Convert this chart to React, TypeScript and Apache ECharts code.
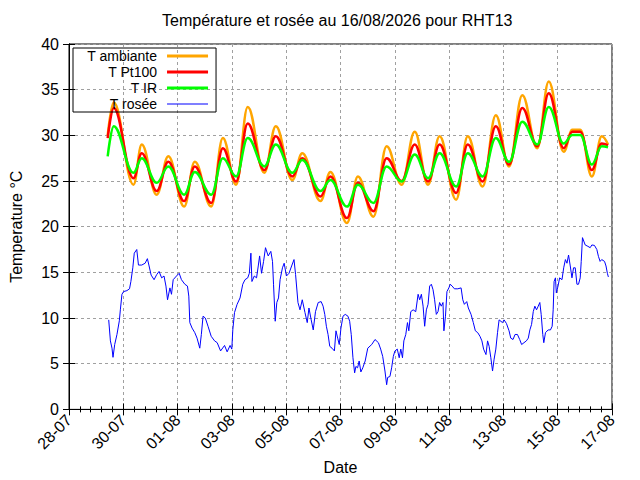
import { useEffect, useRef } from 'react'
import * as echarts from 'echarts'

// heures depuis le 28-07 00:00
const tempHours = [
  34.2, 39.5, 57.0, 64.3, 77.5, 87.8, 101.8, 111.2, 125.7, 136.0,
  147.7, 158.0, 172.6, 182.8, 197.4, 206.2, 222.3, 231.1, 245.7, 255.4,
  269.1, 280.8, 294.0, 305.6, 317.4, 327.6, 342.2, 352.5, 365.6, 377.3,
  389.0, 400.7, 413.9, 424.1, 437.3, 444.9, 451.9, 462.2, 470.9, 476.5
]

const tAmbiante = [
  30.0, 33.6, 24.6, 29.0, 23.5, 27.7, 22.2, 27.1, 22.2, 29.7,
  24.6, 33.1, 25.9, 31.0, 25.1, 28.05, 22.8, 26.0, 20.4, 25.5,
  21.1, 28.8, 24.6, 30.4, 24.6, 29.9, 22.95, 29.9, 24.4, 32.2,
  26.6, 34.4, 28.6, 35.9, 28.2, 30.6, 30.6, 25.5, 29.9, 29.0
]

const tPt100 = [
  29.7, 33.0, 25.3, 28.05, 23.9, 27.1, 22.8, 26.6, 22.6, 28.6,
  24.95, 31.3, 26.2, 29.9, 25.5, 27.5, 23.3, 25.5, 20.95, 24.8,
  21.7, 27.5, 25.0, 29.0, 24.95, 29.0, 23.7, 29.0, 24.95, 31.0,
  26.8, 33.0, 28.8, 34.6, 28.6, 30.4, 30.4, 26.2, 29.1, 28.9
]

const tIR = [
  27.7, 31.0, 25.9, 27.5, 24.8, 26.6, 23.5, 26.0, 23.5, 27.5,
  25.5, 29.7, 26.6, 29.0, 25.9, 27.3, 23.9, 25.1, 22.2, 24.6,
  22.6, 26.6, 24.95, 27.9, 25.3, 28.05, 24.4, 28.05, 25.5, 29.7,
  27.1, 31.5, 29.0, 33.1, 29.1, 30.05, 30.05, 26.8, 28.8, 28.7
]

// [heure, rosée]
const tRosee: [number, number][] = [
  [35.1, 9.8], [36.6, 7.5], [38.0, 6.7], [38.9, 5.7], [40.4, 7.1], [42.4, 8.2], [44.5, 9.7], [45.4, 10.9],
  [46.8, 12.6], [48.3, 12.9], [51.2, 13.0], [53.5, 13.2], [54.7, 14.0], [56.4, 15.5], [57.7, 17.1], [59.9, 17.5],
  [61.4, 15.8], [64.3, 15.8], [67.3, 16.0], [69.3, 16.5], [70.8, 15.7], [72.6, 14.7], [75.2, 14.2], [77.5, 14.75],
  [79.6, 15.1], [81.9, 14.4], [84.0, 14.6], [85.7, 13.5], [87.1, 12.0], [89.2, 13.3], [90.6, 12.6], [92.1, 14.2],
  [95.0, 14.6], [97.4, 14.9], [99.4, 14.2], [102.4, 13.7], [104.7, 13.5], [105.9, 12.4], [106.8, 9.5], [108.8, 8.9],
  [111.2, 8.4], [113.2, 7.8], [115.6, 6.7], [117.0, 8.2], [118.5, 10.2], [120.5, 10.0], [122.9, 9.1], [125.7, 8.0],
  [128.7, 7.5], [131.0, 7.3], [134.0, 6.4], [137.5, 7.0], [139.8, 6.3], [142.4, 7.0], [143.9, 6.6], [144.8, 8.7],
  [146.3, 10.6], [148.6, 11.5], [151.2, 12.2], [153.6, 13.7], [155.6, 14.2], [158.0, 14.4], [159.4, 14.9], [160.8, 17.1],
  [161.7, 14.0], [163.8, 14.6], [165.8, 14.4], [167.3, 15.7], [168.5, 16.8], [170.2, 14.9], [172.0, 16.2], [173.7, 17.7],
  [176.1, 16.8], [178.4, 17.3], [179.9, 16.2], [180.8, 13.7], [182.3, 9.65], [183.7, 11.7], [185.2, 12.2], [186.6, 14.2],
  [188.7, 15.5], [190.2, 16.0], [192.2, 14.6], [194.5, 14.9], [196.8, 15.7], [198.9, 16.4], [200.3, 14.75], [202.4, 11.7],
  [204.2, 10.9], [206.2, 12.0], [208.6, 10.6], [210.6, 9.5], [212.1, 11.1], [214.1, 9.8], [215.9, 8.7], [217.9, 10.7],
  [220.3, 11.7], [222.9, 11.8], [224.6, 11.3], [226.1, 10.4], [227.5, 9.1], [229.0, 8.2], [230.5, 6.9], [232.5, 6.7],
  [234.6, 6.4], [236.0, 8.6], [237.5, 7.8], [238.9, 7.1], [240.4, 8.9], [242.2, 10.2], [244.2, 10.4], [246.6, 10.2],
  [248.1, 9.65], [249.5, 8.2], [251.0, 5.65], [252.5, 4.0], [253.6, 4.7], [255.1, 4.55], [256.5, 5.3], [258.0, 4.1],
  [259.7, 4.55], [261.8, 5.3], [264.1, 6.7], [267.6, 7.1], [270.5, 7.65], [273.5, 7.3], [275.5, 6.6], [277.3, 5.8],
  [279.3, 4.2], [280.8, 2.7], [281.7, 3.5], [283.7, 3.6], [285.2, 4.55], [286.7, 5.8], [288.1, 6.4], [290.2, 6.6],
  [291.9, 5.65], [293.3, 6.6], [294.8, 5.65], [296.0, 7.5], [297.7, 8.2], [299.2, 9.5], [300.4, 8.6], [302.1, 10.7],
  [304.2, 10.9], [306.5, 10.7], [308.6, 12.6], [310.0, 12.0], [311.5, 12.6], [313.0, 11.3], [314.4, 9.1], [315.9, 10.9],
  [317.4, 11.5], [318.8, 13.5], [320.3, 13.7], [321.8, 13.1], [323.2, 12.0], [324.7, 10.4], [326.2, 10.7], [327.6, 11.7],
  [329.1, 11.3], [330.6, 11.7], [331.4, 8.6], [332.8, 10.2], [334.1, 12.9], [335.8, 13.3], [337.0, 13.7], [338.7, 13.5],
  [340.7, 13.2], [343.7, 13.2], [346.6, 13.3], [348.1, 12.0], [349.5, 11.5], [351.6, 11.8], [353.0, 11.1], [355.4, 10.4],
  [357.4, 9.5], [359.2, 8.6], [361.3, 8.4], [363.3, 8.0], [365.0, 7.5], [366.5, 6.6], [368.6, 6.0], [370.0, 7.5],
  [371.4, 6.9], [372.9, 5.65], [374.4, 4.2], [375.8, 5.5], [377.3, 6.6], [378.8, 8.4], [380.2, 9.8], [383.2, 9.5],
  [384.6, 9.8], [386.7, 9.4], [389.0, 8.6], [390.5, 7.8], [392.5, 7.65], [394.3, 8.2], [396.4, 8.2], [398.4, 7.65],
  [400.1, 7.1], [402.2, 7.3], [404.3, 7.5], [406.0, 7.8], [407.4, 8.7], [408.9, 9.3], [410.4, 10.7], [411.8, 11.3],
  [413.3, 10.9], [414.8, 11.3], [416.2, 11.7], [417.4, 10.4], [418.8, 8.2], [419.7, 7.3], [421.2, 8.4], [423.6, 8.7],
  [425.6, 8.7], [427.1, 9.1], [428.0, 10.9], [428.8, 14.0], [430.0, 14.4], [430.8, 12.75], [432.3, 13.5], [433.7, 14.4],
  [435.8, 14.2], [437.3, 15.5], [438.8, 16.4], [440.2, 16.0], [441.6, 16.9], [443.1, 15.7], [444.6, 14.4], [446.0, 15.5],
  [447.5, 15.5], [449.0, 13.7], [450.4, 13.7], [451.9, 14.4], [452.8, 16.2], [453.9, 18.8], [456.3, 18.0], [458.7, 17.85],
  [460.7, 17.7], [462.2, 18.0], [464.5, 17.95], [466.6, 17.5], [468.0, 16.75], [469.5, 16.2], [470.9, 16.4], [473.4, 16.2],
  [474.7, 15.7], [475.9, 14.9], [476.8, 14.5]
]

const xTickLabels = [
  '28-07', '30-07', '01-08', '03-08', '05-08', '07-08',
  '09-08', '11-08', '13-08', '15-08', '17-08'
]

const FONT = "'Liberation Sans', Arial, sans-serif"

// trait de légende, avec 5px vides à gauche
const thickIcon = 'path://M0,1.5h0.01v0.01h-0.01Z M5,0H46V3H5Z'
const thinIcon = 'path://M0,0.5h0.01v0.01h-0.01Z M5,0H46V1H5Z'

export default function App() {
  const chartRef = useRef<HTMLDivElement>(null)

  useEffect(() => {
    if (!chartRef.current) return
    const chart = echarts.init(chartRef.current, null, { renderer: 'svg' })

    const tempSeries = (name: string, values: number[], color: string) => ({
      name,
      type: 'line' as const,
      data: tempHours.map((h, i) => [h, values[i]]),
      showSymbol: false,
      symbol: 'none',
      smooth: 0.4,
      smoothMonotone: 'x' as const,
      color,
      itemStyle: { color },
      lineStyle: { color, width: 2.5 }
    })

    const option: echarts.EChartsOption = {
      animation: false,
      backgroundColor: '#ffffff',
      textStyle: { fontFamily: FONT },
      title: {
        text: 'Température et rosée au 16/08/2026 pour RHT13',
        left: 162,
        top: 12,
        padding: 0,
        textStyle: { fontSize: 16, fontWeight: 'normal', color: '#000', fontFamily: FONT }
      },
      legend: {
        orient: 'vertical',
        align: 'right',
        left: 73,
        top: 48,
        padding: [0, 8, 0, 14],
        itemGap: 0,
        itemWidth: 46,
        itemHeight: 14,
        borderColor: '#000',
        borderWidth: 1,
        selectedMode: false,
        itemStyle: { borderWidth: 0 },
        textStyle: { fontSize: 14, color: '#000', lineHeight: 16, fontFamily: FONT },
        data: [
          { name: 'T ambiante', icon: thickIcon },
          { name: 'T Pt100', icon: thickIcon },
          { name: 'T IR', icon: thickIcon },
          { name: 'T rosée', icon: thinIcon }
        ]
      },
      grid: {
        left: 65,
        right: 28,
        top: 44,
        bottom: 70,
        show: true,
        borderColor: '#000',
        borderWidth: 1,
        backgroundColor: 'transparent'
      },
      xAxis: [
        {
          type: 'value',
          min: 0,
          max: 480,
          interval: 48,
          position: 'bottom',
          name: 'Date',
          nameLocation: 'middle',
          nameGap: 48,
          nameTextStyle: { fontSize: 16, color: '#000', fontFamily: FONT },
          axisLine: { show: true, lineStyle: { color: '#000' } },
          axisTick: { show: true, inside: true, length: 6, lineStyle: { color: '#000' } },
          minorTick: { show: true, splitNumber: 5, length: 3, lineStyle: { color: '#000' } },
          axisLabel: {
            rotate: 45,
            margin: 8,
            fontSize: 16,
            color: '#000',
            fontFamily: FONT,
            formatter: (v: number) => xTickLabels[Math.round(v / 48)] ?? ''
          },
          splitLine: { show: true, lineStyle: { color: '#a0a0a0', type: [3, 3], width: 1 } }
        },
        {
          type: 'value',
          min: 0,
          max: 480,
          interval: 48,
          position: 'top',
          axisLine: { show: true, lineStyle: { color: '#000' } },
          axisTick: { show: true, inside: true, length: 6, lineStyle: { color: '#000' } },
          minorTick: { show: true, splitNumber: 5, length: 3, lineStyle: { color: '#000' } },
          axisLabel: { show: false },
          splitLine: { show: false }
        }
      ],
      yAxis: [
        {
          type: 'value',
          min: 0,
          max: 40,
          interval: 5,
          position: 'left',
          name: 'Temperature °C',
          nameLocation: 'middle',
          nameGap: 45,
          nameTextStyle: { fontSize: 16, color: '#000', fontFamily: FONT },
          axisLine: { show: true, lineStyle: { color: '#000' } },
          axisTick: { show: true, inside: true, length: 6, lineStyle: { color: '#000' } },
          axisLabel: { fontSize: 16, color: '#000', margin: 10, fontFamily: FONT },
          splitLine: { show: true, lineStyle: { color: '#a0a0a0', type: [3, 3], width: 1 } }
        },
        {
          type: 'value',
          min: 0,
          max: 40,
          interval: 5,
          position: 'right',
          axisLine: { show: true, lineStyle: { color: '#000' } },
          axisTick: { show: true, inside: true, length: 6, lineStyle: { color: '#000' } },
          axisLabel: { show: false },
          splitLine: { show: false }
        }
      ],
      series: [
        tempSeries('T ambiante', tAmbiante, '#ffa500'),
        tempSeries('T Pt100', tPt100, '#ff0000'),
        tempSeries('T IR', tIR, '#00ff00'),
        {
          name: 'T rosée',
          type: 'line',
          data: tRosee,
          showSymbol: false,
          symbol: 'none',
          color: '#0000ff',
          itemStyle: { color: '#0000ff' },
          lineStyle: { color: '#0000ff', width: 1 }
        }
      ]
    }

    chart.setOption(option)

    return () => {
      chart.dispose()
    }
  }, [])

  return (
    <div
      ref={chartRef}
      style={{ position: 'fixed', left: 0, top: 0, width: 640, height: 480, background: '#fff' }}
    />
  )
}
